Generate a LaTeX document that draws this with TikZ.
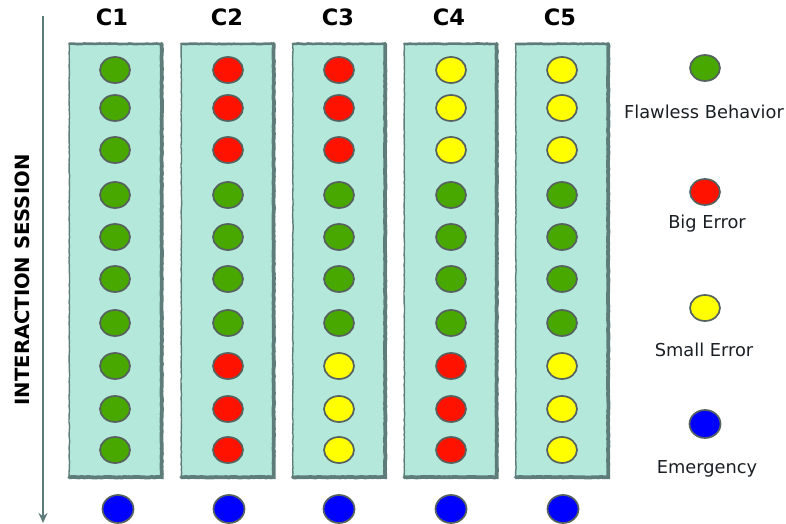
\documentclass[tikz,border=0pt]{standalone}
\usepackage{fontspec}
\setmainfont{DejaVu Sans}
\usetikzlibrary{shapes.geometric,arrows.meta,decorations.pathmorphing}

\definecolor{boxfill}{HTML}{B3E8DA}
\definecolor{boxline}{HTML}{5E7D7A}
\definecolor{ringline}{HTML}{56625F}
\definecolor{okgreen}{HTML}{48A800}
\definecolor{bigred}{HTML}{FF1200}
\definecolor{smallyellow}{HTML}{FFFF00}
\definecolor{emblue}{HTML}{0000FF}
\definecolor{labeltext}{HTML}{1A1F24}

\begin{document}
\begin{tikzpicture}[x=1pt,y=-1pt,
  colbox/.style={rectangle, fill=boxfill, minimum width=92pt, minimum height=433pt, inner sep=0pt},
  boxedge/.style={draw=boxline, line cap=round,
    decorate, decoration={random steps, segment length=2.5pt, amplitude=0.3pt}},
  dot/.style={ellipse, draw=ringline, line width=1.7pt, minimum width=30pt, minimum height=26pt, inner sep=0pt},
  okdot/.style={dot, fill=okgreen},
  bigdot/.style={dot, fill=bigred},
  smalldot/.style={dot, fill=smallyellow},
  emdot/.style={dot, fill=emblue, minimum width=31pt, minimum height=28pt},
  head/.style={font=\bfseries\fontsize{22.5}{22.5}\selectfont, anchor=base, text=black},
  legend/.style={font=\fontsize{17.8}{17.8}\selectfont, anchor=base, text=labeltext},
  axislabel/.style={font=\bfseries\fontsize{19.6}{19.6}\selectfont, rotate=90, text=black},
  timeline/.style={draw=boxline, line width=2.5pt, -{Stealth[length=10pt,width=9pt]}},
]
\useasboundingbox (0,0) rectangle (786,524);

% time axis on the left
\coordinate (tstart) at (43,16);
\coordinate (tend) at (43,523);
\draw[timeline] (tstart) -- (tend);
\node[axislabel] (axis) at (22,280) {INTERACTION SESSION};

% column panels
\foreach \n/\x in {1/115.5, 2/227.5, 3/339, 4/450.5, 5/562}{
  \node[colbox] (box\n) at (\x,260.5) {};
  \draw[boxedge, line width=1.4pt] (box\n.south west) -- (box\n.north west);
  \draw[boxedge, line width=2.6pt] (box\n.north west) -- (box\n.north east);
  \draw[boxedge, line width=3.8pt] (box\n.north east) -- (box\n.south east) -- (box\n.south west);
}

% column headers
\node[head] (h1) at (112,26) {C1};
\node[head] (h2) at (227,26) {C2};
\node[head] (h3) at (338,26) {C3};
\node[head] (h4) at (449,26) {C4};
\node[head] (h5) at (560,26) {C5};

% outcome of each step
\def\rowys{{70,108,150,195,237,279,323,366,409,450}}
\foreach \s [count=\r] in {okdot,okdot,okdot,okdot,okdot,okdot,okdot,okdot,okdot,okdot}{
  \pgfmathsetmacro\yy{\rowys[\r-1]}
  \node[\s] (d1-\r) at (115,\yy) {};
}
\foreach \s [count=\r] in {bigdot,bigdot,bigdot,okdot,okdot,okdot,okdot,bigdot,bigdot,bigdot}{
  \pgfmathsetmacro\yy{\rowys[\r-1]}
  \node[\s] (d2-\r) at (228,\yy) {};
}
\foreach \s [count=\r] in {bigdot,bigdot,bigdot,okdot,okdot,okdot,okdot,smalldot,smalldot,smalldot}{
  \pgfmathsetmacro\yy{\rowys[\r-1]}
  \node[\s] (d3-\r) at (339,\yy) {};
}
\foreach \s [count=\r] in {smalldot,smalldot,smalldot,okdot,okdot,okdot,okdot,bigdot,bigdot,bigdot}{
  \pgfmathsetmacro\yy{\rowys[\r-1]}
  \node[\s] (d4-\r) at (451,\yy) {};
}
\foreach \s [count=\r] in {smalldot,smalldot,smalldot,okdot,okdot,okdot,okdot,smalldot,smalldot,smalldot}{
  \pgfmathsetmacro\yy{\rowys[\r-1]}
  \node[\s] (d5-\r) at (562,\yy) {};
}

% emergency row below the panels
\foreach \n/\x in {1/118, 2/229, 3/339, 4/451, 5/563}{
  \node[emdot] (e\n) at (\x,509) {};
}

% legend
\node[okdot] (lg1) at (705,68) {};
\node[legend] (lt1) at (704,118) {Flawless Behavior};
\node[bigdot] (lg2) at (705,192) {};
\node[legend] (lt2) at (707,228) {Big Error};
\node[smalldot] (lg3) at (705,308) {};
\node[legend] (lt3) at (704,356) {Small Error};
\node[emdot] (lg4) at (705,424) {};
\node[legend] (lt4) at (707,473) {Emergency};
\end{tikzpicture}
\end{document}
